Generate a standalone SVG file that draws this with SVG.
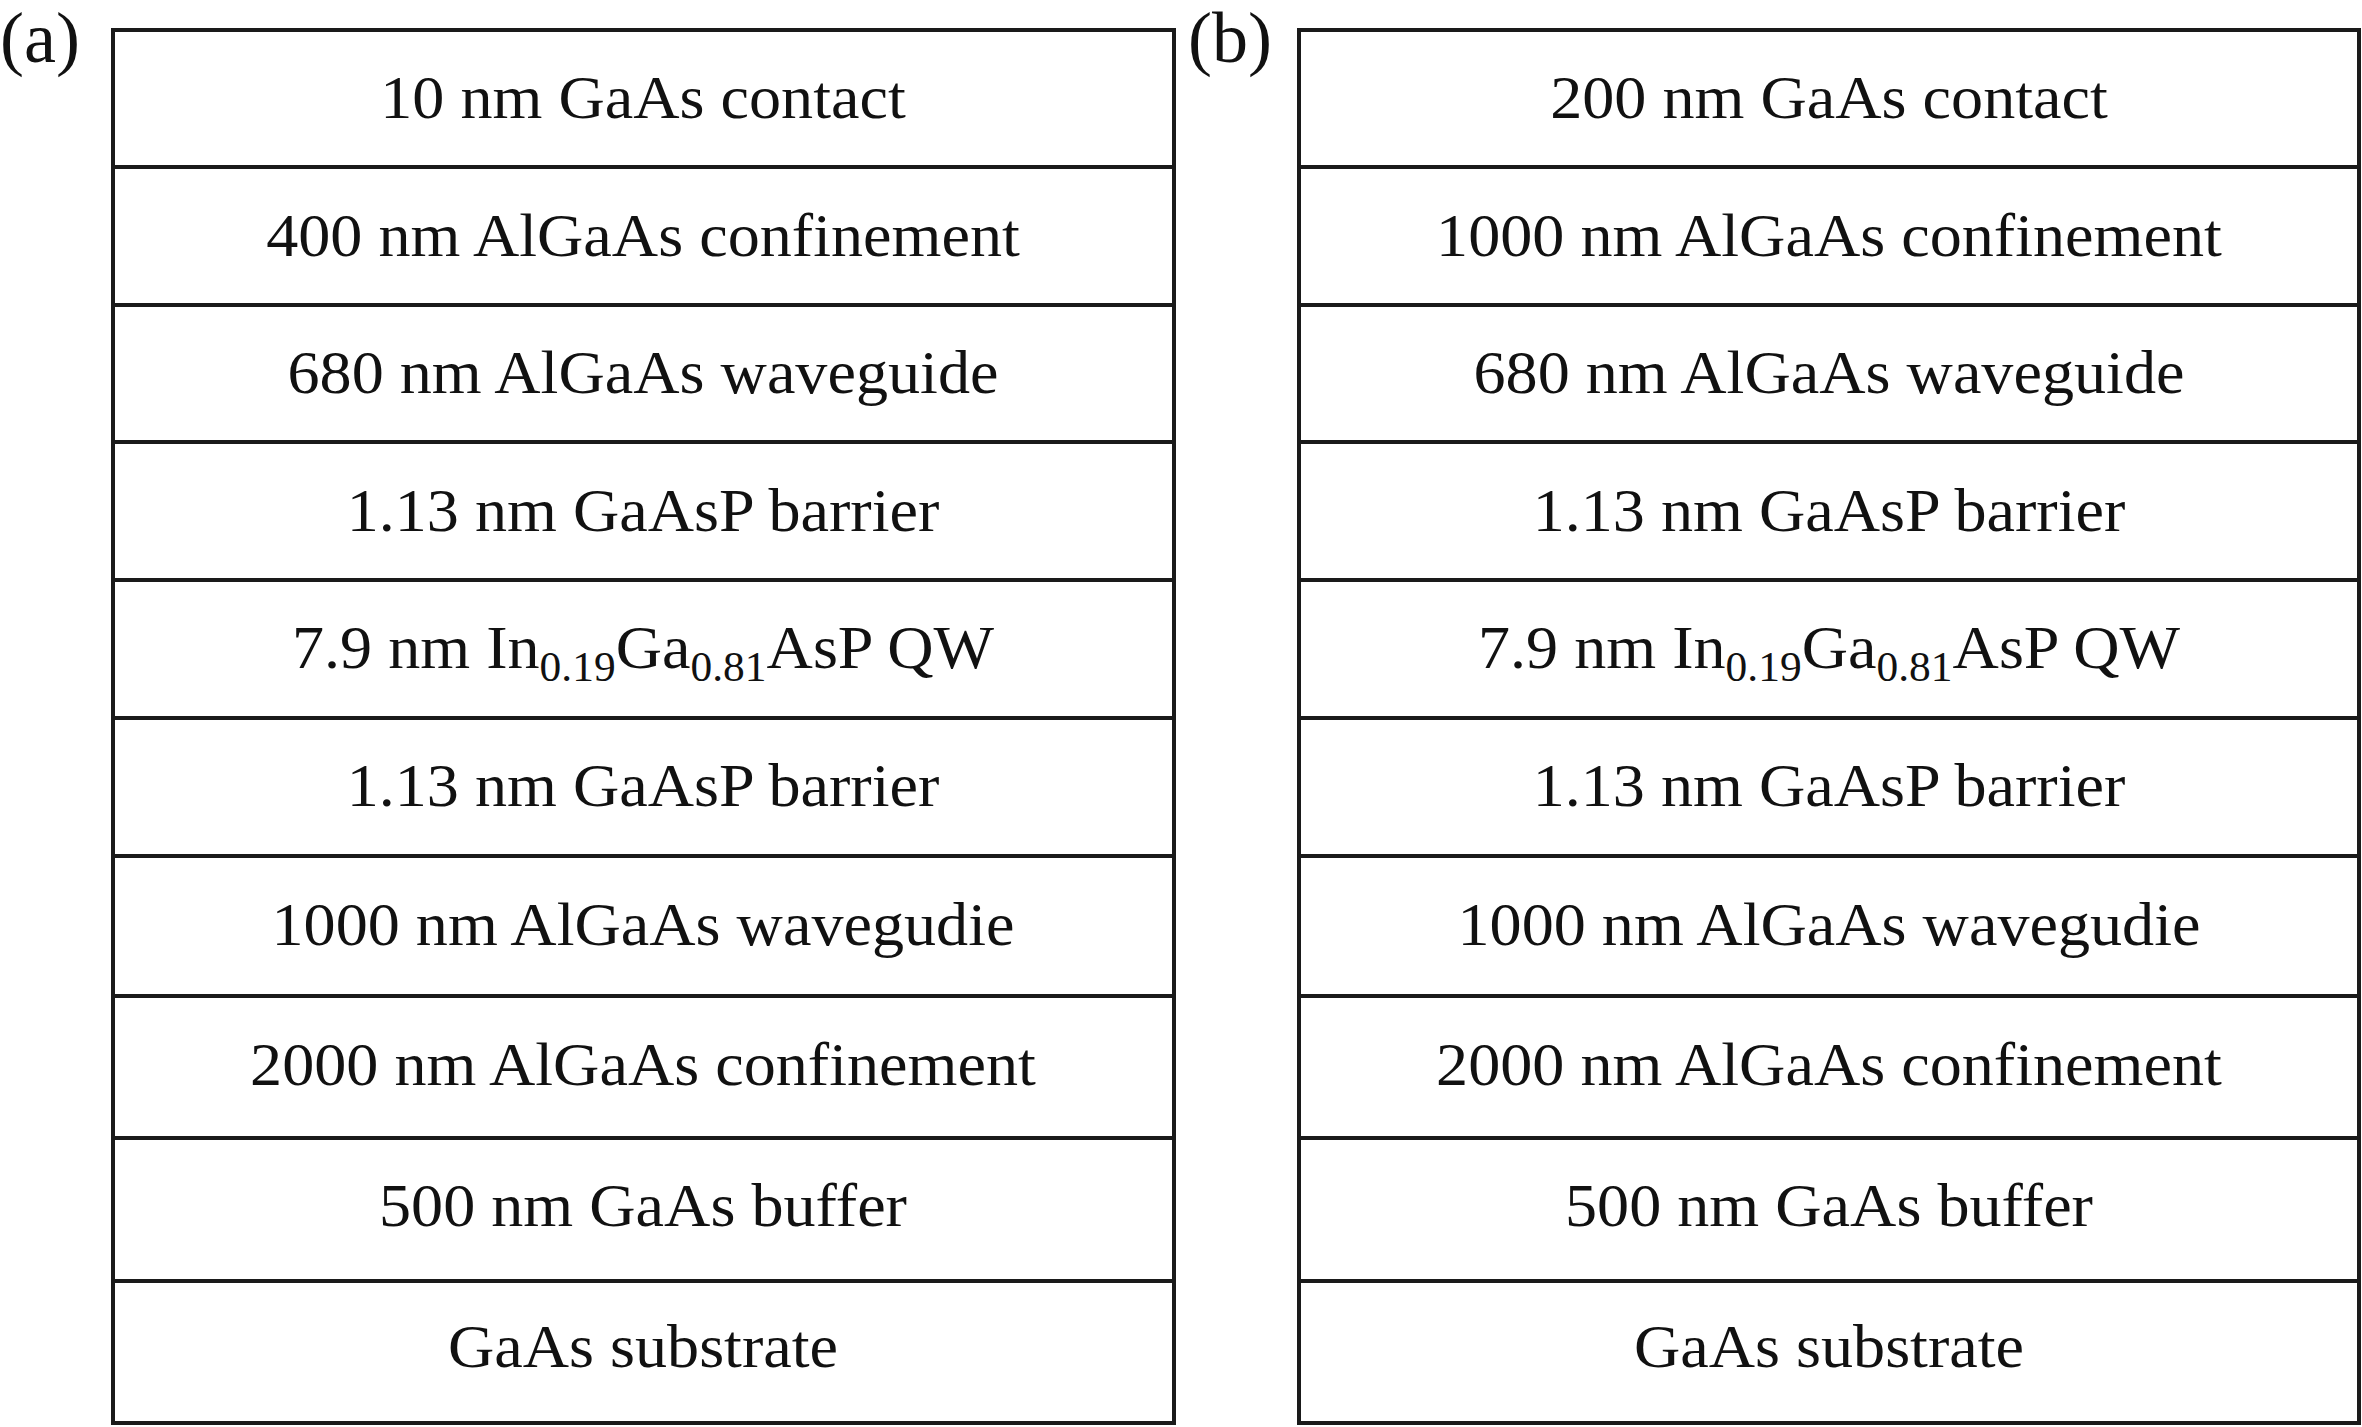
<svg xmlns="http://www.w3.org/2000/svg" width="2362" height="1427" viewBox="0 0 2362 1427">
<style>
.box{fill:#fff;stroke:#1a1a1a;stroke-width:4}
.div{stroke:#1a1a1a;stroke-width:4}
.t{font-family:'Liberation Serif','Times New Roman',serif;fill:#111;font-size:62px;text-anchor:middle}
.lab{font-family:'Liberation Serif','Times New Roman',serif;fill:#111;font-size:72px}
.sub{font-size:42px}
</style>
<rect width="2362" height="1427" fill="#fff"/>
<text class="lab" x="0" y="62">(a)</text>
<text class="lab" x="1188" y="62">(b)</text>
<g id="stackA">
<rect class="box" x="113" y="30" width="1061" height="1393"/>
<g id="dividersA">
<line class="div" x1="113" y1="167" x2="1174" y2="167"/>
<line class="div" x1="113" y1="305" x2="1174" y2="305"/>
<line class="div" x1="113" y1="442" x2="1174" y2="442"/>
<line class="div" x1="113" y1="580" x2="1174" y2="580"/>
<line class="div" x1="113" y1="718" x2="1174" y2="718"/>
<line class="div" x1="113" y1="856" x2="1174" y2="856"/>
<line class="div" x1="113" y1="996" x2="1174" y2="996"/>
<line class="div" x1="113" y1="1138" x2="1174" y2="1138"/>
<line class="div" x1="113" y1="1281" x2="1174" y2="1281"/>
</g>
<g transform="translate(643,0) scale(1.035,1) translate(-643,0)">
<text class="t" x="643" y="118">10 nm GaAs contact</text>
<text class="t" x="643" y="256">400 nm AlGaAs confinement</text>
<text class="t" x="643" y="393">680 nm AlGaAs waveguide</text>
<text class="t" x="643" y="531">1.13 nm GaAsP barrier</text>
<text class="t" x="643" y="668">7.9 nm In<tspan class="sub" dy="13">0.19</tspan><tspan dy="-13">Ga</tspan><tspan class="sub" dy="13">0.81</tspan><tspan dy="-13">AsP QW</tspan></text>
<text class="t" x="643" y="806">1.13 nm GaAsP barrier</text>
<text class="t" x="643" y="945">1000 nm AlGaAs wavegudie</text>
<text class="t" x="643" y="1085">2000 nm AlGaAs confinement</text>
<text class="t" x="643" y="1226">500 nm GaAs buffer</text>
<text class="t" x="643" y="1367">GaAs substrate</text>
</g>
</g>
<g id="stackB">
<rect class="box" x="1299" y="30" width="1060" height="1393"/>
<g id="dividersB">
<line class="div" x1="1299" y1="167" x2="2359" y2="167"/>
<line class="div" x1="1299" y1="305" x2="2359" y2="305"/>
<line class="div" x1="1299" y1="442" x2="2359" y2="442"/>
<line class="div" x1="1299" y1="580" x2="2359" y2="580"/>
<line class="div" x1="1299" y1="718" x2="2359" y2="718"/>
<line class="div" x1="1299" y1="856" x2="2359" y2="856"/>
<line class="div" x1="1299" y1="996" x2="2359" y2="996"/>
<line class="div" x1="1299" y1="1138" x2="2359" y2="1138"/>
<line class="div" x1="1299" y1="1281" x2="2359" y2="1281"/>
</g>
<g transform="translate(1829,0) scale(1.035,1) translate(-1829,0)">
<text class="t" x="1829" y="118">200 nm GaAs contact</text>
<text class="t" x="1829" y="256">1000 nm AlGaAs confinement</text>
<text class="t" x="1829" y="393">680 nm AlGaAs waveguide</text>
<text class="t" x="1829" y="531">1.13 nm GaAsP barrier</text>
<text class="t" x="1829" y="668">7.9 nm In<tspan class="sub" dy="13">0.19</tspan><tspan dy="-13">Ga</tspan><tspan class="sub" dy="13">0.81</tspan><tspan dy="-13">AsP QW</tspan></text>
<text class="t" x="1829" y="806">1.13 nm GaAsP barrier</text>
<text class="t" x="1829" y="945">1000 nm AlGaAs wavegudie</text>
<text class="t" x="1829" y="1085">2000 nm AlGaAs confinement</text>
<text class="t" x="1829" y="1226">500 nm GaAs buffer</text>
<text class="t" x="1829" y="1367">GaAs substrate</text>
</g>
</g>
</svg>
